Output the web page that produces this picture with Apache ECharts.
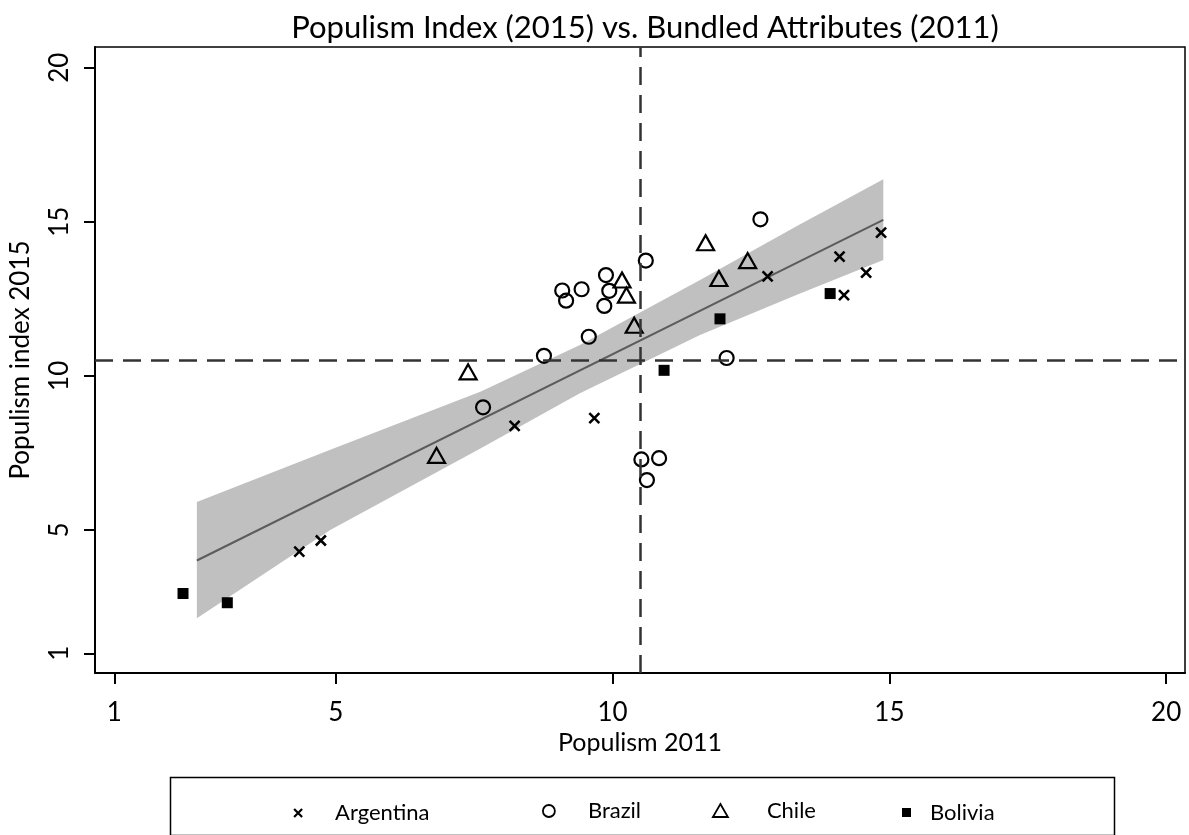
<!DOCTYPE html>
<html><head><meta charset="utf-8">
<script src="https://cdn.jsdelivr.net/npm/echarts@6/dist/echarts.min.js"></script>
<style>html,body{margin:0;padding:0;background:#fff}#c{width:1189px;height:835px}</style>
</head><body><div id="c"></div>
<script>
// ---- data ----
const xTicks = [1, 5, 10, 15, 20];
const yTicks = [1, 5, 10, 15, 20];
const argentina = [[4.34,4.30],[4.73,4.66],[8.23,8.38],[9.67,8.63],[12.80,13.23],[14.10,13.87],[14.58,13.35],[14.18,12.62],[14.85,14.65]];
const brazil = [[12.67,15.08],[10.60,13.74],[9.88,13.27],[9.09,12.77],[9.44,12.81],[9.94,12.76],[9.16,12.44],[9.85,12.27],[9.57,11.27],[8.76,10.65],[12.06,10.58],[7.66,8.98],[10.52,7.29],[10.84,7.33],[10.62,6.62]];
const chile = [[11.68,14.32],[12.44,13.74],[11.92,13.16],[10.17,13.11],[10.25,12.62],[10.39,11.64],[7.39,10.13],[6.82,7.42]];
const bolivia = [[2.24,2.94],[3.04,2.64],[10.93,10.18],[11.94,11.85],[13.93,12.67]];
const fitLine = [[2.49,4.01],[14.89,15.06]];
const bandX = [2.49, 4.90, 7.62, 9.41, 11.58, 13.33, 14.89];
const bandUpper = [5.91, 7.60, 9.49, 11.00, 13.11, 14.86, 16.38];
const bandLower = [2.14, 5.00, 7.65, 9.44, 11.33, 12.63, 13.76];
const refX = 10.5;
const refY = 10.5;

const FONT = 'Lato';
const chart = echarts.init(document.getElementById('c'));
const crossPath = 'path://M0,0L10,10M0,10L10,0';

function legendFor(name, left, w, h, padLeft, style) {
  return {
    data: [name], left: left, top: 806 - h / 2, itemWidth: w, itemHeight: h,
    orient: 'horizontal', padding: 0, selectedMode: false, itemStyle: style,
    textStyle: { fontFamily: FONT, fontSize: 22, color: '#000', padding: [0, 0, 0, padLeft] }
  };
}

chart.setOption({
  animation: false,
  backgroundColor: '#fff',
  title: {
    text: 'Populism Index (2015) vs. Bundled Attributes (2011)',
    left: 640, top: 7, textAlign: 'center',
    textStyle: { fontFamily: FONT, fontSize: 31, fontWeight: 'normal', color: '#000' }
  },
  grid: { left: 95, right: 4, top: 47, bottom: 162, containLabel: false, outerBoundsMode: 'none',
          show: true, borderColor: '#000', borderWidth: 1.5, backgroundColor: 'transparent' },
  xAxis: {
    type: 'value', min: 0.65, max: 20.34,
    name: 'Populism 2011', nameLocation: 'middle', nameGap: 55,
    nameTextStyle: { fontFamily: FONT, fontSize: 25, color: '#000' },
    axisLine: { show: true, onZero: false, lineStyle: { color: '#000', width: 2 } },
    axisTick: { show: true, customValues: xTicks, length: 11, lineStyle: { color: '#000', width: 2 } },
    axisLabel: { customValues: xTicks, margin: 27, fontFamily: FONT, fontSize: 26, color: '#000' },
    splitLine: { show: false }
  },
  yAxis: {
    type: 'value', min: 0.36, max: 20.67,
    name: 'Populism index 2015', nameLocation: 'middle', nameGap: 61,
    nameTextStyle: { fontFamily: FONT, fontSize: 26, color: '#000' },
    axisLine: { show: true, onZero: false, lineStyle: { color: '#000', width: 2 } },
    axisTick: { show: true, customValues: yTicks, length: 11, lineStyle: { color: '#000', width: 2 } },
    axisLabel: { customValues: yTicks, rotate: 90, margin: 22, fontFamily: FONT, fontSize: 26, color: '#000' },
    splitLine: { show: false }
  },
  legend: [
    legendFor('Argentina', 293, 8, 8, 28, { borderWidth: 2.2, borderColor: '#000', color: 'transparent', opacity: 1 }),
    legendFor('Brazil', 542, 12, 12, 28, { borderWidth: 1.8, borderColor: '#000', color: 'transparent', opacity: 1 }),
    legendFor('Chile', 712, 15, 13, 34, { borderWidth: 1.8, borderColor: '#000', color: 'transparent', opacity: 1 }),
    legendFor('Bolivia', 902, 9, 9, 14, { borderWidth: 0, color: '#000', opacity: 1 })
  ],
  graphic: [{
    type: 'rect', left: 168, top: 775, silent: true,
    shape: { width: 944, height: 58 },
    style: { fill: 'none', stroke: '#000', lineWidth: 1.5 }
  }],
  series: [
    {
      type: 'custom', name: 'band', z: 1, silent: true,
      data: [[bandX[0], bandUpper[0]]],
      renderItem: function (params, api) {
        const pts = [];
        for (let i = 0; i < bandX.length; i++) pts.push(api.coord([bandX[i], bandUpper[i]]));
        for (let i = bandX.length - 1; i >= 0; i--) pts.push(api.coord([bandX[i], bandLower[i]]));
        return { type: 'polygon', shape: { points: pts }, style: { fill: '#c0c0c0', stroke: null } };
      }
    },
    {
      type: 'line', name: 'fit', z: 2, silent: true, data: fitLine, symbol: 'none',
      lineStyle: { color: '#5c5c5c', width: 2 },
      markLine: {
        silent: true, symbol: ['none', 'none'], label: { show: false },
        lineStyle: { color: '#333', width: 2.5, type: [18, 10] },
        emphasis: { disabled: true },
        data: [{ xAxis: refX }, { yAxis: refY }]
      }
    },
    {
      type: 'scatter', name: 'Argentina', z: 4, data: argentina, symbol: crossPath, symbolSize: 10,
      itemStyle: { color: 'transparent', borderColor: '#000', borderWidth: 2.6, opacity: 1 }
    },
    {
      type: 'scatter', name: 'Brazil', z: 4, data: brazil, symbol: 'circle', symbolSize: 14,
      itemStyle: { color: 'transparent', borderColor: '#000', borderWidth: 2.2, opacity: 1 }
    },
    {
      type: 'scatter', name: 'Chile', z: 4, data: chile, symbol: 'triangle', symbolSize: [17, 15],
      itemStyle: { color: 'transparent', borderColor: '#000', borderWidth: 2.2, opacity: 1 }
    },
    {
      type: 'scatter', name: 'Bolivia', z: 4, data: bolivia, symbol: 'rect', symbolSize: 11,
      itemStyle: { color: '#000', opacity: 1 }
    }
  ]
});
</script>
</body></html>
